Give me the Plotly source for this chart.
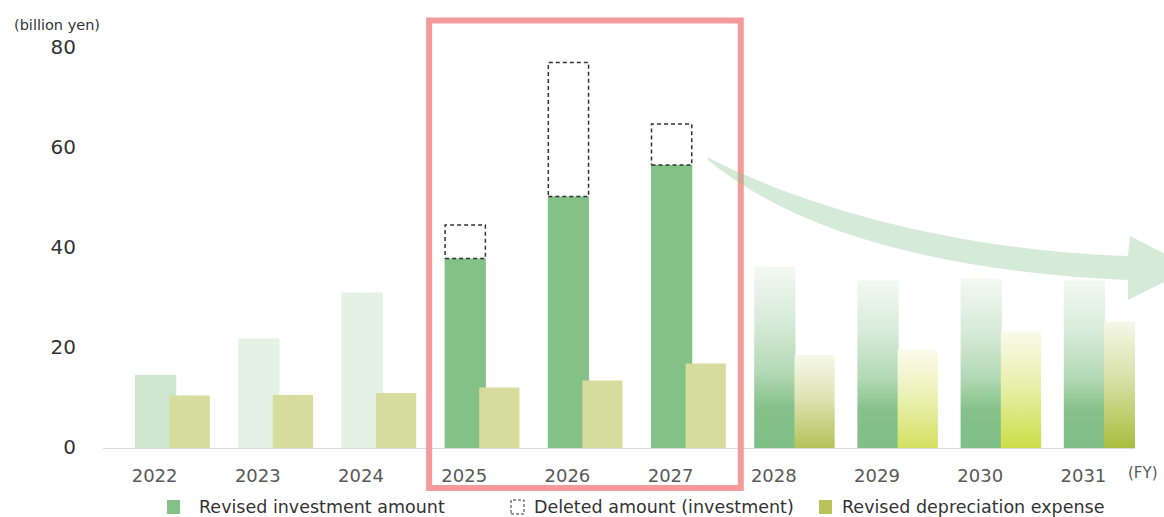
import plotly.graph_objects as go

# ---- data (billion yen) ----
years = ["2022", "2023", "2024", "2025", "2026", "2027", "2028", "2029", "2030", "2031"]
revised_investment = [14.6, 21.9, 31.1, 37.9, 50.3, 56.6, 36.3, 33.5, 33.9, 33.5]
deleted_investment = [0, 0, 0, 6.7, 26.8, 8.2, 0, 0, 0, 0]
revised_depreciation = [10.5, 10.6, 11.0, 12.1, 13.5, 16.9, 18.6, 19.7, 23.3, 25.3]
y_ticks = [0, 20, 40, 60, 80]

# ---- layout constants ----
W, H = 1164, 517
M_L, M_R, M_T, M_B = 103, 29, 48, 69
FONT = "DejaVu Sans"

N_SOLID = 6          # 2022-2027 drawn as plain bars, later years as gradient bars
INV_OFF, INV_W = -0.19, 0.40
DEP_OFF, DEP_W = 0.145, 0.39
DEP_OFF_FUT = 0.20

inv_colors = ["#cde6cf", "#e4f2e5", "#e4f2e5", "#84c187", "#84c187", "#84c187"]
dep_color = "#d5dc9d"
inv_grad = [[0, "#80bf85"], [0.22, "#85c189"], [0.42, "#b3d9b5"], [0.68, "#d6ead7"], [1, "#f3f9f3"]]
dep_grad_base = [(182, 194, 90), (211, 225, 96), (203, 222, 72), (168, 189, 62)]


def blend(rgb, t):
    """Mix an rgb tuple with white; t=0 keeps the colour, t=1 gives white."""
    r, g, b = (round(c + (255 - c) * t) for c in rgb)
    return f"rgb({r},{g},{b})"


def px_x(px):
    return (px - M_L) / (W - M_L - M_R)


def px_y(py):
    return (H - M_B - py) / (H - M_T - M_B)


idx = list(range(len(years)))
fig = go.Figure()

# revised investment, 2022-2027
fig.add_trace(go.Bar(
    x=idx[:N_SOLID], y=revised_investment[:N_SOLID],
    offset=INV_OFF, width=INV_W,
    marker=dict(color=inv_colors, line=dict(width=0)),
    name="Revised investment amount", showlegend=False,
))
# revised depreciation, 2022-2027
fig.add_trace(go.Bar(
    x=idx[:N_SOLID], y=revised_depreciation[:N_SOLID],
    offset=DEP_OFF, width=DEP_W,
    marker=dict(color=dep_color, line=dict(width=0)),
    name="Revised depreciation expense", showlegend=False,
))

# outlook years: bars fading upward
for k, i in enumerate(idx[N_SOLID:]):
    v = revised_investment[i]
    x0, x1 = i + INV_OFF, i + INV_OFF + INV_W
    fig.add_trace(go.Scatter(
        x=[x0, x1, x1, x0, x0], y=[0, 0, v, v, 0], mode="lines",
        fill="toself", line=dict(width=0),
        fillgradient=dict(type="vertical", colorscale=inv_grad, start=0, stop=v),
        hoverinfo="skip", showlegend=False,
    ))
    d = revised_depreciation[i]
    x0, x1 = i + DEP_OFF_FUT, i + DEP_OFF_FUT + DEP_W
    base = dep_grad_base[k]
    fig.add_trace(go.Scatter(
        x=[x0, x1, x1, x0, x0], y=[0, 0, d, d, 0], mode="lines",
        fill="toself", line=dict(width=0),
        fillgradient=dict(type="vertical",
                          colorscale=[[0, blend(base, 0)], [0.25, blend(base, 0.25)],
                                      [0.55, blend(base, 0.55)], [1, blend(base, 0.88)]],
                          start=0, stop=d),
        hoverinfo="skip", showlegend=False,
    ))

# deleted investment: dashed outlines stacked on the revised bars
dx, dy = [], []
for i in idx:
    if deleted_investment[i] > 0:
        lo = revised_investment[i]
        hi = lo + deleted_investment[i]
        x0, x1 = i + INV_OFF + 0.005, i + INV_OFF + INV_W - 0.005
        dx += [x0, x1, x1, x0, x0, None]
        dy += [lo, lo, hi, hi, lo, None]
fig.add_trace(go.Scatter(
    x=dx, y=dy, mode="lines",
    line=dict(color="#333333", width=1.5, dash="4px,3px"),
    name="Deleted amount (investment)", showlegend=False, hoverinfo="skip",
))

shapes = []
# highlight frame around the revised plan years
shapes.append(dict(
    type="rect", xref="x", yref="paper",
    x0=3 - 0.34, x1=5 + 0.68, y0=px_y(488), y1=px_y(20.5),
    line=dict(color="#f59a9b", width=6), fillcolor="rgba(0,0,0,0)", layer="above",
))


# curved downward-trend arrow
def pt(px, py):
    return f"{px_x(px):.5f},{px_y(py):.5f}"


arrow_path = (
    f"M {pt(707, 157)} "
    f"C {pt(800, 205)} {pt(950, 250)} {pt(1128, 256)} "
    f"L {pt(1130, 236)} L {pt(1192, 268)} L {pt(1128, 300)} L {pt(1128, 280)} "
    f"C {pt(950, 272)} {pt(800, 236)} {pt(708, 160)} Z"
)
shapes.append(dict(
    type="path", xref="paper", yref="paper", path=arrow_path,
    fillcolor="rgba(140,196,146,0.36)", line=dict(width=0), layer="above",
))

annotations = []
annotations.append(dict(
    text="(billion yen)", xref="paper", yref="paper", x=px_x(57), y=px_y(25),
    xanchor="center", yanchor="middle", showarrow=False,
    font=dict(family=FONT, size=14.5, color="#333333"),
))
annotations.append(dict(
    text="(FY)", xref="paper", yref="paper", x=px_x(1143), y=px_y(473),
    xanchor="center", yanchor="middle", showarrow=False,
    font=dict(family=FONT, size=15, color="#595959"),
))

# legend row
LEG_Y = 507
legend_items = [
    (173.5, 197, "Revised investment amount", "solid", "#84c187"),
    (517.5, 532, "Deleted amount (investment)", "dash", None),
    (825.5, 840, "Revised depreciation expense", "solid", "#b8c45a"),
]
for cx, tx, label, kind, col in legend_items:
    box = dict(
        type="rect", xref="paper", yref="paper",
        x0=px_x(cx - 6.5), x1=px_x(cx + 6.5), y0=px_y(LEG_Y + 7), y1=px_y(LEG_Y - 7),
    )
    if kind == "solid":
        box.update(fillcolor=col, line=dict(width=0))
    else:
        box.update(fillcolor="rgba(0,0,0,0)", line=dict(color="#333333", width=1, dash="3px,2px"))
    shapes.append(box)
    annotations.append(dict(
        text=label, xref="paper", yref="paper", x=px_x(tx), y=px_y(LEG_Y),
        xanchor="left", yanchor="middle", showarrow=False,
        font=dict(family=FONT, size=17.5, color="#333333"),
    ))

fig.update_layout(
    width=W, height=H,
    margin=dict(l=M_L, r=M_R, t=M_T, b=M_B, pad=0),
    paper_bgcolor="white", plot_bgcolor="white",
    barmode="overlay", showlegend=False,
    shapes=shapes, annotations=annotations,
    xaxis=dict(
        range=[-0.5, len(years) - 0.5], tickmode="array", tickvals=idx, ticktext=years,
        showgrid=False, zeroline=False, showline=True, linecolor="#d9d9d9", linewidth=1,
        ticks="", ticklabelstandoff=11,
        tickfont=dict(family=FONT, size=18, color="#595959"),
    ),
    yaxis=dict(
        range=[0, 80], tickmode="array", tickvals=y_ticks,
        showgrid=False, zeroline=False, showline=False, ticks="",
        ticklabelstandoff=26, ticklabelshift=-1,
        tickfont=dict(family=FONT, size=20, color="#333333"),
    ),
)

fig.write_html("out.html")
